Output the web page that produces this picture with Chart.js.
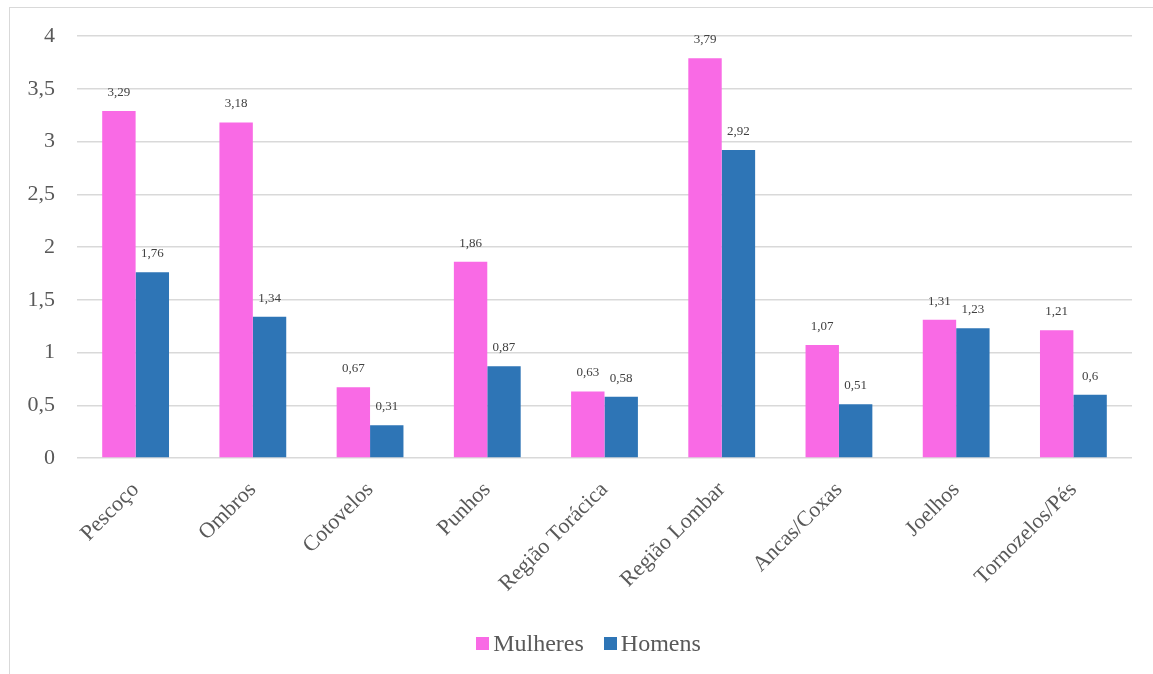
<!DOCTYPE html>
<html>
<head>
<meta charset="utf-8">
<script src="https://cdn.jsdelivr.net/npm/chart.js@4.4.1/dist/chart.umd.min.js"></script>
<style>
  body { margin: 0; background: #fff; }
  #wrap { position: relative; width: 1153px; height: 674px; overflow: hidden; }
  #frame { position: absolute; left: 9px; top: 7px; width: 1160px; height: 680px; border: 1.5px solid #d9d9d9; box-sizing: border-box; }
  canvas { position: absolute; left: 0; top: 0; }
  #legend { position: absolute; left: 12px; width: 1153px; top: 628px; text-align: center; font: 24px "Liberation Serif", "Times New Roman", serif; color: #595959; line-height: 30px; }
  #legend span.item { display: inline-block; margin: 0 10px; }
  #legend span.box { display: inline-block; width: 13px; height: 13px; margin-right: 4px; vertical-align: 1px; }
</style>
</head>
<body>
<div id="wrap">
  <div id="frame"></div>
  <canvas id="myChart" width="1153" height="674"></canvas>
  <div id="legend"></div>
</div>
<script>
const categories = ['Pescoço', 'Ombros', 'Cotovelos', 'Punhos', 'Região Torácica', 'Região Lombar', 'Ancas/Coxas', 'Joelhos', 'Tornozelos/Pés'];
const mulheres = [3.29, 3.18, 0.67, 1.86, 0.63, 3.79, 1.07, 1.31, 1.21];
const homens = [1.76, 1.34, 0.31, 0.87, 0.58, 2.92, 0.51, 1.23, 0.6];

const serif = '"Liberation Serif", "Times New Roman", serif';
const fmt = v => String(v).replace('.', ',');

// value labels above each bar
const valueLabels = {
  id: 'valueLabels',
  afterDatasetsDraw(chart) {
    const ctx = chart.ctx;
    ctx.save();
    ctx.font = '13px ' + serif;
    ctx.fillStyle = '#404040';
    ctx.textAlign = 'center';
    ctx.textBaseline = 'bottom';
    chart.data.datasets.forEach((ds, i) => {
      chart.getDatasetMeta(i).data.forEach((bar, j) => {
        ctx.fillText(fmt(ds.data[j]), bar.x, bar.y - 12);
      });
    });
    ctx.restore();
  }
};

const ctx = document.getElementById('myChart').getContext('2d');
const myChart = new Chart(ctx, {
  type: 'bar',
  data: {
    labels: categories,
    datasets: [
      { label: 'Mulheres', data: mulheres, backgroundColor: '#F96AE5', borderWidth: 0 },
      { label: 'Homens', data: homens, backgroundColor: '#2E75B6', borderWidth: 0 }
    ]
  },
  options: {
    responsive: false,
    animation: false,
    layout: { padding: { left: 10, right: 21, top: 36, bottom: 0 } },
    datasets: { bar: { categoryPercentage: 0.57, barPercentage: 1 } },
    plugins: {
      legend: { display: false },
      tooltip: { enabled: false }
    },
    scales: {
      x: {
        afterFit(axis) { axis.height = 216; },
        grid: { display: false },
        border: { display: false },
        ticks: {
          font: { family: serif, size: 22 },
          color: '#595959',
          maxRotation: 45,
          minRotation: 45,
          padding: 11
        }
      },
      y: {
        min: 0,
        max: 4,
        afterFit(axis) { axis.width = 67; },
        grid: { color: '#d9d9d9', lineWidth: 1.5, drawTicks: false },
        border: { display: false },
        ticks: {
          stepSize: 0.5,
          font: { family: serif, size: 22 },
          color: '#595959',
          padding: 22,
          callback: v => fmt(v)
        }
      }
    }
  },
  plugins: [valueLabels]
});

// legend
const legend = document.getElementById('legend');
myChart.data.datasets.forEach(ds => {
  const item = document.createElement('span');
  item.className = 'item';
  item.innerHTML = `<span class="box" style="background:${ds.backgroundColor}"></span>${ds.label}`;
  legend.appendChild(item);
});
</script>
</body>
</html>
